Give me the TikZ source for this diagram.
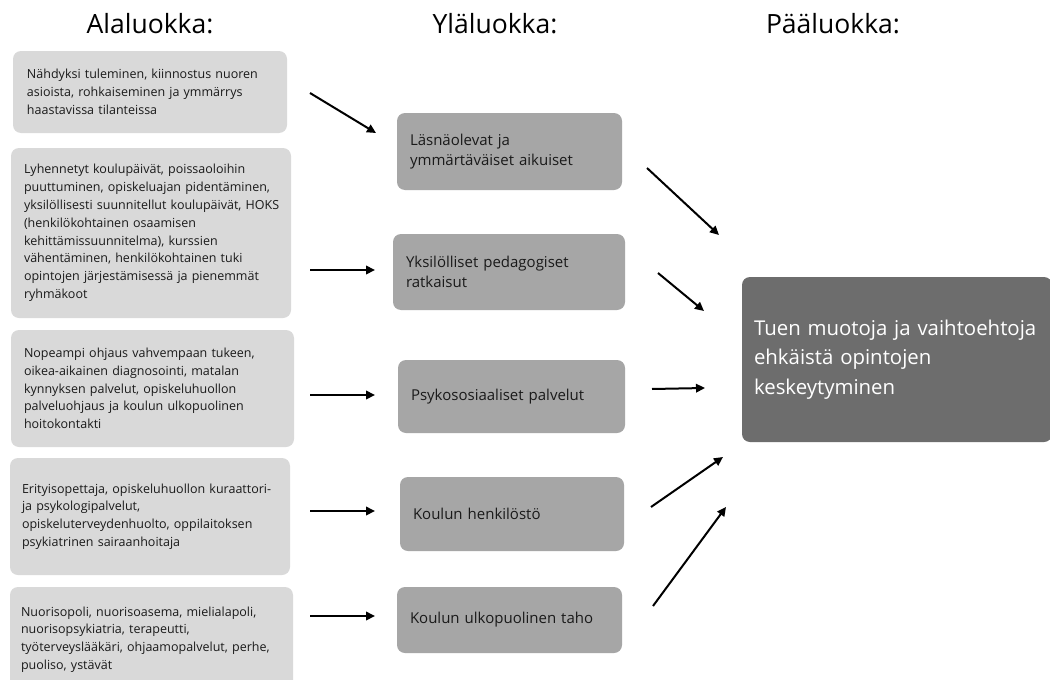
\documentclass[tikz,border=0pt]{standalone}
\usepackage{fontspec}
\setmainfont{Open Sans}
\usetikzlibrary{arrows.meta}
\definecolor{lightbox}{HTML}{D9D9D9}
\definecolor{midbox}{HTML}{A6A6A6}
\definecolor{darkbox}{HTML}{6D6D6D}
\definecolor{txt}{HTML}{1A1A1A}
\hbadness=10000 \hfuzz=100pt
\tikzset{
  lowbox/.style={fill=lightbox, rounded corners=8pt, inner xsep=0pt, inner ysep=0pt, align=left, text=txt,
    font=\fontsize{12.5}{17.8}\selectfont},
  upbox/.style={fill=midbox, rounded corners=8pt, inner xsep=0pt, inner ysep=0pt, align=left, text=txt,
    font=\fontsize{15}{20}\selectfont},
  mainbox/.style={fill=darkbox, rounded corners=8pt, inner xsep=0pt, inner ysep=0pt, align=left, text=white,
    font=\fontsize{20.4}{29.5}\selectfont},
  heading/.style={text=black, font=\fontsize{26.5}{30}\selectfont, anchor=base},
  arr/.style={line width=2pt, -{Triangle[length=9pt,width=8.5pt]}}
}
\begin{document}
\begin{tikzpicture}[x=1pt,y=-1pt]
\useasboundingbox (0,0) rectangle (1050,680);
\fill[white] (0,0) rectangle (1050,680);

% headings
\node[heading] (h1) at (150,33) {Alaluokka:};
\node[heading] (h2) at (495,33) {Yläluokka:};
\node[heading] (h3) at (833,33) {Pääluokka:};

% lower-level boxes
\node[lowbox, minimum width=274pt, minimum height=82pt, text width=246pt] (l1) at (150,92)
  {Nähdyksi tuleminen, kiinnostus nuoren\\asioista, rohkaiseminen ja ymmärrys\\haastavissa tilanteissa};
\node[lowbox, minimum width=280pt, minimum height=170pt, text width=254pt] (l2) at (151,233)
  {Lyhennetyt koulupäivät, poissaoloihin\\puuttuminen, opiskeluajan pidentäminen,\\\mbox{yksilöllisesti suunnitellut koulupäivät, HOKS}\\(henkilökohtainen osaamisen\\kehittämissuunnitelma), kurssien\\vähentäminen, henkilökohtainen tuki\\opintojen järjestämisessä ja pienemmät\\ryhmäkoot};
\node[lowbox, minimum width=283pt, minimum height=117pt, text width=257pt] (l3) at (152.5,388.5)
  {Nopeampi ohjaus vahvempaan tukeen,\\oikea-aikainen diagnosointi, matalan\\kynnyksen palvelut, opiskeluhuollon\\palveluohjaus ja koulun ulkopuolinen\\hoitokontakti};
\node[lowbox, minimum width=280pt, minimum height=117pt, text width=256pt] (l4) at (150,516.5)
  {\mbox{Erityisopettaja, opiskeluhuollon kuraattori-}\\ja psykologipalvelut,\\opiskeluterveydenhuolto, oppilaitoksen\\psykiatrinen sairaanhoitaja};
\node[lowbox, minimum width=283pt, minimum height=105pt, text width=261pt] (l5) at (151.5,639.5)
  {Nuorisopoli, nuorisoasema, mielialapoli,\\nuorisopsykiatria, terapeutti,\\\mbox{työterveyslääkäri, ohjaamopalvelut, perhe,}\\puoliso, ystävät};

% upper-level boxes
\node[upbox, minimum width=225pt, minimum height=77pt, text width=199pt] (u1) at (509.5,151.5)
  {Läsnäolevat ja\\ymmärtäväiset aikuiset};
\node[upbox, minimum width=232pt, minimum height=76pt, text width=206pt] (u2) at (509,272)
  {Yksilölliset pedagogiset\\ratkaisut};
\node[upbox, minimum width=227pt, minimum height=73pt, text width=201pt] (u3) at (511.5,396.5)
  {Psykososiaaliset palvelut};
\node[upbox, minimum width=224pt, minimum height=74pt, text width=198pt] (u4) at (512,514)
  {Koulun henkilöstö};
\node[upbox, minimum width=225pt, minimum height=66pt, text width=199pt] (u5) at (509.5,620)
  {Koulun ulkopuolinen taho};

% main box
\node[mainbox, minimum width=310pt, minimum height=165pt, text width=286pt] (m) at (897,359.5)
  {\mbox{Tuen muotoja ja vaihtoehtoja}\\ehkäistä opintojen\\keskeytyminen};

% arrow end points
\coordinate (a1s) at (310,93);  \coordinate (a1e) at (376,133);
\coordinate (a2s) at (310,270); \coordinate (a2e) at (375,270);
\coordinate (a3s) at (310,395); \coordinate (a3e) at (375,395);
\coordinate (a4s) at (310,511); \coordinate (a4e) at (375,511);
\coordinate (a5s) at (310,616); \coordinate (a5e) at (375,616);
\coordinate (b1s) at (647,168); \coordinate (b1e) at (719,235);
\coordinate (b2s) at (658,273); \coordinate (b2e) at (704,311);
\coordinate (b3s) at (652,389); \coordinate (b3e) at (705,388);
\coordinate (b4s) at (651,507); \coordinate (b4e) at (723,457);
\coordinate (b5s) at (653,606); \coordinate (b5e) at (726,507);

\draw[arr] (a1s) -- (a1e);
\draw[arr] (a2s) -- (a2e);
\draw[arr] (a3s) -- (a3e);
\draw[arr] (a4s) -- (a4e);
\draw[arr] (a5s) -- (a5e);
\draw[arr] (b1s) -- (b1e);
\draw[arr] (b2s) -- (b2e);
\draw[arr] (b3s) -- (b3e);
\draw[arr] (b4s) -- (b4e);
\draw[arr] (b5s) -- (b5e);
\end{tikzpicture}
\end{document}
